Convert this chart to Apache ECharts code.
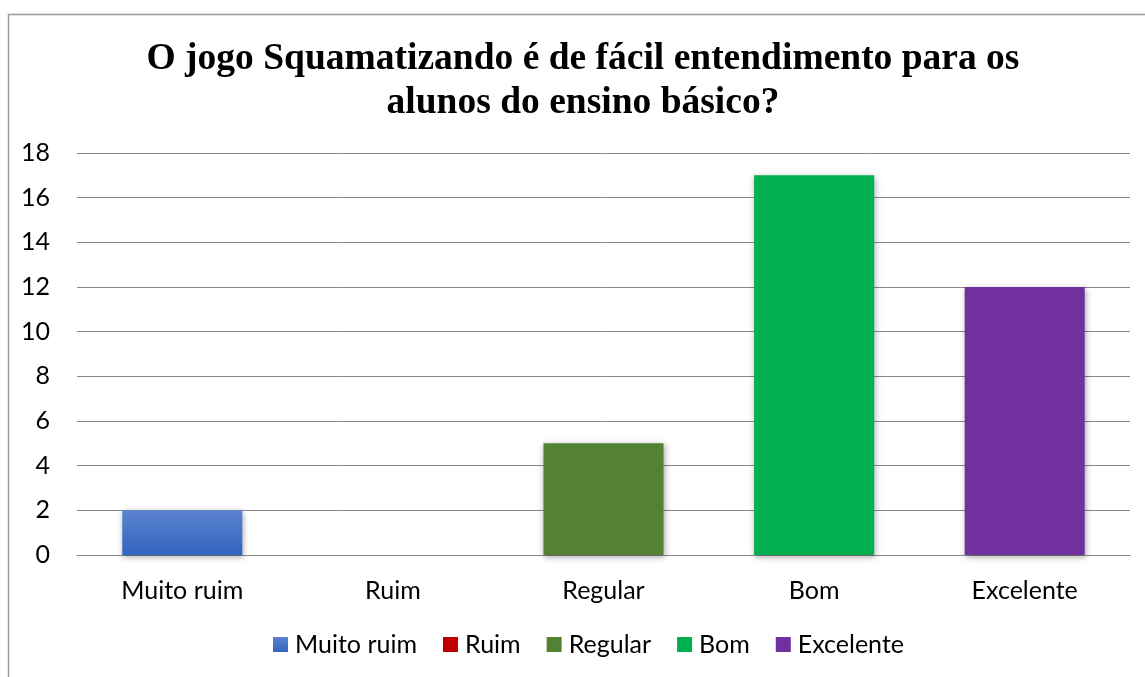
<html>
<head>
    <meta charset="utf-8">
    <title>Squamatizando</title>
    <script src="https://cdn.jsdelivr.net/npm/echarts@6.0.0/dist/echarts.min.js"></script>
    <style>
        html, body { margin: 0; padding: 0; background: #fff; }
    </style>
</head>
<body>
    <div id="chartmain" style="width:1145px; height:677px;"></div>

    <script type="text/javascript">
        // dados
        var categorias = ['Muito ruim', 'Ruim', 'Regular', 'Bom', 'Excelente'];
        var valores = [2, 0, 5, 17, 12];
        var cores = [
            new echarts.graphic.LinearGradient(0, 0, 0, 1, [
                { offset: 0, color: '#5B84D0' },
                { offset: 1, color: '#3263BE' }
            ]),
            '#C00000', '#548235', '#00B050', '#7030A0'
        ];
        var yTicks = { min: 0, max: 18, interval: 2 };

        var myChart = echarts.init(document.getElementById('chartmain'));

        var series = categorias.map(function (nome, i) {
            var d = categorias.map(function (c, j) { return j === i ? valores[i] : null; });
            return {
                name: nome,
                type: 'bar',
                stack: 'total',
                barWidth: '57%',
                data: d,
                itemStyle: {
                    color: cores[i],
                    shadowColor: 'rgba(0,0,0,0.35)',
                    shadowBlur: 6,
                    shadowOffsetX: 1,
                    shadowOffsetY: 2
                }
            };
        });

        myChart.setOption({
            animation: false,
            graphic: [{
                type: 'rect',
                shape: { x: 8.5, y: 14.5, width: 1200, height: 800 },
                style: { fill: 'none', stroke: '#9a9a9a', lineWidth: 1.5 },
                z: -1
            }],
            title: {
                text: 'O jogo Squamatizando é de fácil entendimento para os\nalunos do ensino básico?',
                left: 578,
                textAlign: 'center',
                top: 32,
                textStyle: {
                    fontFamily: 'Liberation Serif',
                    fontWeight: 'bold',
                    fontSize: 37.5,
                    lineHeight: 44,
                    color: '#000'
                }
            },
            legend: {
                bottom: 15,
                left: 268,
                itemWidth: 15,
                itemHeight: 15,
                itemGap: 26,
                icon: 'rect',
                textStyle: {
                    fontFamily: 'Lato',
                    fontSize: 25,
                    color: '#000',
                    padding: [0, 0, 0, 2]
                },
                data: categorias
            },
            grid: {
                left: 77,
                right: 15,
                top: 153,
                bottom: 122
            },
            xAxis: {
                type: 'category',
                data: categorias,
                axisLine: { show: true, lineStyle: { color: '#888', width: 1 } },
                axisTick: { show: false },
                axisLabel: {
                    margin: 23,
                    fontFamily: 'Lato',
                    fontSize: 25,
                    color: '#000'
                }
            },
            yAxis: {
                type: 'value',
                min: yTicks.min,
                max: yTicks.max,
                interval: yTicks.interval,
                axisLine: { show: false },
                axisTick: { show: false },
                splitLine: { lineStyle: { color: '#888', width: 1 } },
                axisLabel: {
                    margin: 27,
                    fontFamily: 'Lato',
                    fontSize: 25,
                    color: '#000'
                }
            },
            series: series
        });
    </script>
</body>
</html>
